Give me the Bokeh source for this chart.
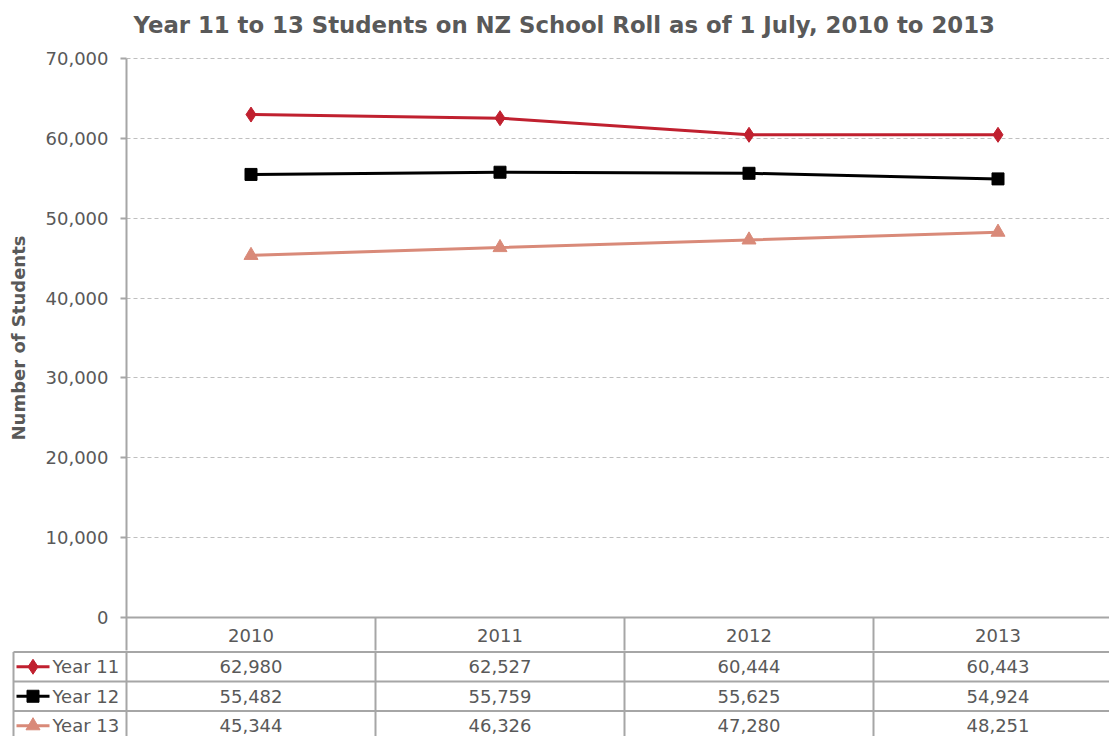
import math
from bokeh.plotting import figure
from bokeh.layouts import column, row
from bokeh.models import Range1d, FixedTicker, NumeralTickFormatter, ColumnDataSource, LinearAxis
from bokeh.core.properties import value
from bokeh.embed import file_html
from bokeh.resources import INLINE

# ---- data ----
title_text = "Year 11 to 13 Students on NZ School Roll as of 1 July, 2010 to 2013"
y_title = "Number of Students"
years = ["2010", "2011", "2012", "2013"]
series_names = ["Year 11", "Year 12", "Year 13"]
year11 = [62980, 62527, 60444, 60443]
year12 = [55482, 55759, 55625, 54924]
year13 = [45344, 46326, 47280, 48251]
y_ticks = [0, 10000, 20000, 30000, 40000, 50000, 60000, 70000]

colors = ["#C0202F", "#000000", "#D98A79"]
markers = ["diamond", "square", "triangle"]
msizes = [15, 12, 14]
series = [year11, year12, year13]

FONT = "DejaVu Sans"
TXT = "#595959"
AX = "#A6A6A6"

W = 1109
LAB_W = 30
xs = list(range(len(years)))
px_per_col = 249.0
frame_left_px = 126
x_end = -0.5 + (W - frame_left_px) / px_per_col

# vertical geometry (px)
top_px = 58       # position of 70,000
zero_px = 617     # position of 0
top_h = 650
val_per_px = 70000 / (zero_px - top_px)
y_start = -(top_h - zero_px) * val_per_px
y_end = 70000 + top_px * val_per_px


def px2x(px):
    return (px - frame_left_px) / px_per_col - 0.5


def px2y(py):
    return (zero_px - py) * val_per_px


# ---- narrow strip holding the vertical axis title ----
lab = figure(width=LAB_W, height=top_h, output_backend="svg", toolbar_location=None,
             x_range=Range1d(0, LAB_W), y_range=Range1d(top_h, 0),
             x_axis_location=None, y_axis_location=None,
             min_border_left=0, min_border_right=0, min_border_top=0, min_border_bottom=0,
             frame_align=False)
lab.outline_line_color = None
lab.xgrid.visible = False
lab.ygrid.visible = False
lab.text([17.5], [(top_px + zero_px) / 2], text=[y_title], angle=math.pi / 2,
         text_font=value(FONT), text_font_size="18px", text_font_style="bold",
         text_color=TXT, text_align="center", text_baseline="middle")

# ---- top figure: title + chart + header row of the table ----
p = figure(width=W - LAB_W, height=top_h, output_backend="svg", toolbar_location=None,
           x_range=Range1d(-0.5, x_end), y_range=Range1d(y_start, y_end),
           x_axis_location=None, y_axis_location=None,
           min_border_left=frame_left_px - LAB_W, min_border_right=0,
           min_border_top=0, min_border_bottom=0, frame_align=False)
p.outline_line_color = None

yaxis = LinearAxis(ticker=FixedTicker(ticks=y_ticks, minor_ticks=[]),
                   formatter=NumeralTickFormatter(format="0,0"), bounds=(y_start, 70000))
yaxis.major_label_text_font = FONT
yaxis.major_label_text_font_size = "18px"
yaxis.major_label_text_color = TXT
yaxis.major_label_standoff = 12
yaxis.axis_line_color = AX
yaxis.axis_line_width = 2
yaxis.major_tick_line_color = AX
yaxis.major_tick_line_width = 2
yaxis.major_tick_out = 6
yaxis.major_tick_in = 0
yaxis.minor_tick_line_color = None
p.add_layout(yaxis, "left")

p.xgrid.visible = False
p.ygrid.ticker = FixedTicker(ticks=y_ticks[1:])
p.ygrid.grid_line_color = "#BFBFBF"
p.ygrid.grid_line_dash = "4 3"
p.ygrid.grid_line_width = 1

# title
p.text([px2x(133)], [px2y(24)], text=[title_text], text_font=value(FONT), text_font_size="22.8px",
       text_font_style="bold", text_color=TXT, text_align="left", text_baseline="middle")

# baseline and header-row separators
p.segment(x0=[-0.5], y0=[0], x1=[x_end + 1], y1=[0], line_color=AX, line_width=2)
sep = [x + 0.5 for x in xs[:-1]]
p.segment(x0=sep, y0=[0] * len(sep), x1=sep, y1=[y_start * 2] * len(sep), line_color=AX, line_width=2)

# header labels (years)
hsrc = ColumnDataSource(dict(x=xs, y=[px2y(635)] * len(xs), txt=years))
p.text(x="x", y="y", text="txt", source=hsrc, text_font=value(FONT), text_font_size="18px",
       text_color=TXT, text_align="center", text_baseline="middle")

for vals, c, m, s in zip(series, colors, markers, msizes):
    p.line(xs, vals, line_color=c, line_width=3)
    p.scatter(xs, vals, marker=m, size=s, fill_color=c, line_color=c)

# ---- bottom figure: data table rows ----
row_px = 29.5
table_top_px = 651.5
h_b = 736 - top_h
y_top = (table_top_px - top_h) / row_px
y_bot = y_top - h_b / row_px
x_start_b = -0.5 - frame_left_px / px_per_col
left_border = px2x(13)

t = figure(width=W, height=h_b, output_backend="svg", toolbar_location=None,
           x_range=Range1d(x_start_b, x_end), y_range=Range1d(y_bot, y_top),
           x_axis_location=None, y_axis_location=None,
           min_border_left=0, min_border_right=0, min_border_top=0, min_border_bottom=0,
           frame_align=False)
t.outline_line_color = None
t.xgrid.visible = False
t.ygrid.visible = False

nrows = len(series)
hy = [-float(i) for i in range(nrows + 1)]
t.segment(x0=[left_border] * len(hy), y0=hy, x1=[x_end + 1] * len(hy), y1=hy,
          line_color=AX, line_width=2)
vx = [x - 0.5 for x in xs] + [len(xs) - 0.5]
t.segment(x0=vx, y0=[y_top + 1] * len(vx), x1=vx, y1=[-float(nrows)] * len(vx),
          line_color=AX, line_width=2)
t.segment(x0=[left_border], y0=[0], x1=[left_border], y1=[-float(nrows)],
          line_color=AX, line_width=2)

row_y = [-(i + 0.5) for i in range(nrows)]
leg_x0 = px2x(16)
leg_x1 = px2x(49)
leg_xm = (leg_x0 + leg_x1) / 2
leg_tx = px2x(52)
for i, (vals, c, m, s, name) in enumerate(zip(series, colors, markers, msizes, series_names)):
    t.segment(x0=[leg_x0], y0=[row_y[i]], x1=[leg_x1], y1=[row_y[i]], line_color=c, line_width=3)
    t.scatter([leg_xm], [row_y[i]], marker=m, size=s, fill_color=c, line_color=c)
    t.text([leg_tx], [row_y[i]], text=[name], text_font=value(FONT), text_font_size="18px",
           text_color=TXT, text_align="left", text_baseline="middle")
    src = ColumnDataSource(dict(x=xs, y=[row_y[i]] * len(xs), txt=["{:,}".format(v) for v in vals]))
    t.text(x="x", y="y", text="txt", source=src, text_font=value(FONT), text_font_size="18px",
           text_color=TXT, text_align="center", text_baseline="middle")

layout = column(row(lab, p, spacing=0), t, spacing=0)
open("out.html", "w").write(file_html(layout, INLINE))
